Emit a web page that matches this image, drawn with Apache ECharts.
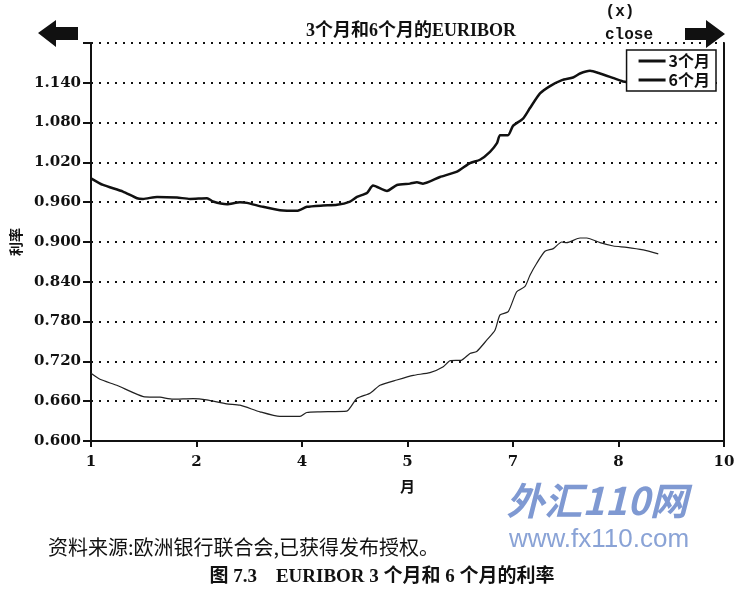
<!DOCTYPE html>
<html lang="zh">
<head>
    <meta charset="UTF-8">
    <title>EURIBOR</title>
    <script src="https://cdn.jsdelivr.net/npm/echarts@6/dist/echarts.min.js"></script>
    <style>
        body {margin: 0; background: #fff;}
        #main {width: 748px; height: 596px;}
    </style>
</head>
<body>
    <div id="main"></div>
    <script>
    // 横轴刻度标签（等距排列）
    var xLabels = ['1', '2', '4', '5', '7', '8', '10'];

    // 6个月利率：位置（按刻度序号）和数值
    var xs6 = [0, 0.114, 0.303, 0.436, 0.493, 0.626, 0.815, 0.938, 1.100, 1.156, 1.289, 1.412, 1.479,
        1.630, 1.791, 1.953, 2.047, 2.199, 2.332, 2.455, 2.521, 2.616, 2.673, 2.806, 2.900, 3.024,
        3.090, 3.147, 3.308, 3.469, 3.592, 3.687, 3.782, 3.848, 3.877, 3.953, 4.000, 4.095, 4.161,
        4.256, 4.351, 4.464, 4.569, 4.635, 4.730, 4.825, 4.919, 5.043, 5.204, 5.374];
    var rate6 = [0.996, 0.986, 0.976, 0.966, 0.965, 0.968, 0.967, 0.965, 0.966, 0.961, 0.957, 0.960, 0.959,
        0.953, 0.948, 0.947, 0.953, 0.955, 0.956, 0.961, 0.968, 0.974, 0.985, 0.977, 0.986, 0.988,
        0.990, 0.988, 0.998, 1.006, 1.019, 1.024, 1.036, 1.049, 1.061, 1.061, 1.075, 1.086, 1.102,
        1.124, 1.135, 1.144, 1.148, 1.154, 1.158, 1.154, 1.149, 1.142, 1.138, 1.134];

    // 3个月利率
    var xs3 = [0, 0.085, 0.244, 0.496, 0.654, 0.777, 0.967, 1.097, 1.286, 1.412, 1.602, 1.791, 1.981,
        2.045, 2.171, 2.424, 2.519, 2.645, 2.739, 2.898, 3.055, 3.213, 3.339, 3.403, 3.514, 3.592,
        3.656, 3.751, 3.829, 3.877, 3.955, 4.035, 4.114, 4.161, 4.225, 4.303, 4.382, 4.462, 4.509,
        4.635, 4.699, 4.825, 4.951, 5.078, 5.235, 5.377];
    var rate3 = [0.702, 0.693, 0.684, 0.667, 0.666, 0.663, 0.664, 0.662, 0.656, 0.654, 0.644, 0.637, 0.637,
        0.643, 0.644, 0.645, 0.664, 0.672, 0.684, 0.692, 0.699, 0.703, 0.712, 0.721, 0.722, 0.732,
        0.735, 0.752, 0.767, 0.790, 0.795, 0.825, 0.833, 0.850, 0.868, 0.886, 0.890, 0.900, 0.899,
        0.906, 0.906, 0.899, 0.894, 0.892, 0.888, 0.882];

    function pairs(xs, ys) {
        return xs.map(function (x, i) { return [x, ys[i]]; });
    }

    var serif = "'DejaVu Serif', 'Noto Sans CJK SC', serif";
    var cjk = "'Noto Sans CJK SC', sans-serif";
    var bookSerif = "'Liberation Serif', 'Noto Sans CJK SC', serif";

    var myChart = echarts.init(document.getElementById('main'));

    var option = {
        backgroundColor: '#fff',
        animation: false,
        title: [
            {
                text: '3个月和6个月的EURIBOR',
                left: 411, top: 22, textAlign: 'center', padding: 0,
                textStyle: {fontFamily: bookSerif, fontSize: 18, fontWeight: 'bold', color: '#111'}
            },
            {
                text: '(x)', left: 620, top: 4, textAlign: 'center', padding: 0,
                textStyle: {fontFamily: "'Liberation Mono', monospace", fontSize: 16, fontWeight: 'bold', color: '#111'}
            },
            {
                text: 'close', left: 629, top: 27, textAlign: 'center', padding: 0,
                textStyle: {fontFamily: "'Liberation Mono', monospace", fontSize: 16, fontWeight: 'bold', color: '#111'}
            },
            {
                text: '资料来源:欧洲银行联合会,已获得发布授权。', left: 48, top: 537, padding: 0,
                textStyle: {fontFamily: cjk, fontSize: 20, fontWeight: 'normal', color: '#111'}
            },
            {
                text: '图 7.3    EURIBOR 3 个月和 6 个月的利率', left: 382, top: 568, textAlign: 'center', padding: 0,
                textStyle: {fontFamily: bookSerif, fontSize: 19, fontWeight: 'bold', color: '#111'}
            },
            // 扫描图上的网站水印
            {
                text: '外汇110网', left: 597, top: 482, textAlign: 'center', padding: 0,
                textStyle: {fontFamily: cjk, fontSize: 38, fontWeight: 'bold', fontStyle: 'italic', color: '#7f99d2'}
            },
            {
                text: 'www.fx110.com', left: 599, top: 527, textAlign: 'center', padding: 0,
                textStyle: {fontFamily: "'Liberation Sans', sans-serif", fontSize: 26, fontWeight: 'normal', color: '#8aa3d6'}
            }
        ],
        legend: {
            right: 32, top: 50,
            orient: 'vertical',
            itemGap: 3,
            padding: [3, 6, 3, 12],
            backgroundColor: '#fff',
            borderColor: '#111',
            borderWidth: 1.5,
            borderRadius: 0,
            icon: 'rect',
            itemWidth: 27,
            itemHeight: 3,
            textStyle: {fontFamily: cjk, fontSize: 16, fontWeight: 'bold', color: '#111', padding: [0, 0, 0, -2]},
            data: ['3个月', '6个月']
        },
        grid: {left: 91, right: 24, top: 43, bottom: 155},
        xAxis: {
            type: 'value',
            min: 0, max: 6, interval: 1,
            name: '月',
            nameLocation: 'middle',
            nameGap: 38,
            nameTextStyle: {fontFamily: cjk, fontSize: 15, fontWeight: 'bold', color: '#111'},
            axisLine: {lineStyle: {color: '#111', width: 2}},
            axisTick: {show: true, length: 6, lineStyle: {color: '#111', width: 2}},
            axisLabel: {
                fontFamily: serif, fontSize: 15, fontWeight: 'bold', color: '#111', margin: 14,
                formatter: function (v) { return xLabels[Math.round(v)]; }
            },
            splitLine: {show: false}
        },
        yAxis: [
            {
                type: 'value',
                min: 0.6, max: 1.2, interval: 0.06,
                name: '利率',
                nameLocation: 'middle',
                nameRotate: 90,
                nameGap: 65,
                nameTextStyle: {fontFamily: cjk, fontSize: 14, fontWeight: 'bold', color: '#111'},
                axisLine: {show: true, lineStyle: {color: '#111', width: 2}},
                axisTick: {show: true, length: 8, lineStyle: {color: '#111', width: 2}},
                axisLabel: {
                    fontFamily: serif, fontSize: 15, fontWeight: 'bold', color: '#111', margin: 10,
                    formatter: function (v) { return v > 1.19 ? '' : v.toFixed(3); }
                },
                splitLine: {show: true, lineStyle: {color: '#111', width: 2, type: [2, 6]}}
            },
            {
                type: 'value',
                position: 'right',
                min: 0.6, max: 1.2, interval: 0.06,
                axisLine: {show: true, lineStyle: {color: '#111', width: 2}},
                axisTick: {show: false},
                axisLabel: {show: false},
                splitLine: {show: false}
            }
        ],
        graphic: [
            {
                type: 'polygon',
                shape: {points: [[38, 33], [56, 20], [56, 27], [78, 27], [78, 40], [56, 40], [56, 47]]},
                style: {fill: '#111'}
            },
            {
                type: 'polygon',
                shape: {points: [[725, 34], [706, 20], [706, 28], [685, 28], [685, 40], [706, 40], [706, 48]]},
                style: {fill: '#111'}
            }
        ],
        series: [
            {
                name: '3个月',
                type: 'line',
                showSymbol: false,
                smooth: 0.2,
                lineStyle: {color: '#222', width: 1.2},
                itemStyle: {color: '#111'},
                data: pairs(xs3, rate3)
            },
            {
                name: '6个月',
                type: 'line',
                showSymbol: false,
                smooth: 0.2,
                lineStyle: {color: '#111', width: 2.5},
                itemStyle: {color: '#111'},
                data: pairs(xs6, rate6)
            }
        ]
    };
    myChart.setOption(option);
    </script>
</body>
</html>
